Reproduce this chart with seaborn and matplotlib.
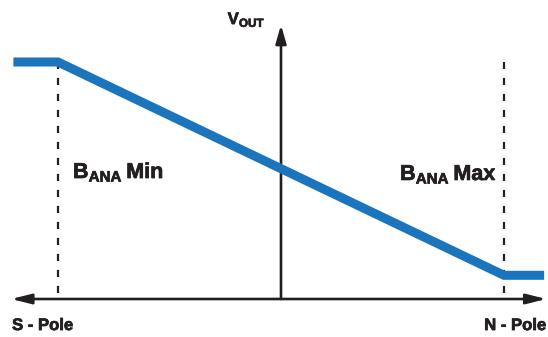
"""
Hall sensor analog output vs magnetic field (S-pole to N-pole).
"""
import matplotlib

matplotlib.use("Agg")
import matplotlib.patheffects as pe
import matplotlib.pyplot as plt
import pandas as pd
import seaborn as sns

# transfer curve: field (normalised, B_ANA Min = -1, B_ANA Max = +1) -> Vout
field = [-1.2, -1.0, 1.0, 1.18]
vout = [1.0, 1.0, 0.1, 0.1]

# limits of the marked field range and the dashed markers
b_limits = [-1.0, 1.0]
marker_bottom = 0.025
marker_top = 1.0

# axis extents
x_axis = [-1.21, 1.19]
y_axis_top = 1.156

BLUE = "#1b75bc"
INK = "#231f20"
FONT = "Liberation Sans"


def main() -> None:
    sns.set_style("white")
    plt.rcParams["font.family"] = [FONT, "DejaVu Sans"]
    plt.rcParams["mathtext.fontset"] = "custom"
    plt.rcParams["mathtext.bf"] = f"{FONT}:bold"
    plt.rcParams["mathtext.rm"] = f"{FONT}:bold"

    fig = plt.figure(figsize=(5.48, 3.37), dpi=100)
    ax = fig.add_axes([0, 0, 1, 1])
    ax.set_xlim(-281 / 223, 267 / 223)
    ax.set_ylim(-38 / 237, 299 / 237)
    ax.axis("off")

    # dashed markers at B_ANA Min / Max
    for b in b_limits:
        ax.plot([b, b], [marker_bottom, marker_top], color=INK, lw=1.6,
                dashes=(3.2, 4.0), zorder=1)

    # axes with arrows
    arrow = dict(arrowstyle="<|-|>,head_length=1.2,head_width=0.3",
                 lw=1.9, color=INK, shrinkA=0, shrinkB=0, mutation_scale=10)
    ax.annotate("", xy=(x_axis[1], 0), xytext=(x_axis[0], 0), arrowprops=arrow)
    arrow_up = dict(arrow, arrowstyle="-|>,head_length=1.1,head_width=0.32")
    ax.annotate("", xy=(0, y_axis_top), xytext=(0, 0), arrowprops=arrow_up)

    df = pd.DataFrame({"field": field, "vout": vout})
    sns.lineplot(data=df, x="field", y="vout", ax=ax, color=BLUE, lw=6.5,
                 sort=False, solid_joinstyle="miter", solid_capstyle="butt",
                 zorder=3)

    # slightly heavier lettering, like the original's black weight
    heavy = [pe.withStroke(linewidth=0.5, foreground=INK)]
    label = dict(va="baseline", fontweight="bold", color=INK, path_effects=heavy)
    ax.text(-0.07, 1.16, r"V$_{\mathbf{OUT}}$", ha="right", fontsize=12, **label)
    ax.text(-1.206, -0.131, "S - Pole", ha="left", fontsize=12, **label)
    ax.text(1.188, -0.131, "N - Pole", ha="right", fontsize=12, **label)
    ax.text(-0.933, 0.51, "B$_{\\mathbf{ANA}}$\u2009Min", ha="left",
            fontsize=15.5, **label)
    ax.text(0.534, 0.502, "B$_{\\mathbf{ANA}}$\u2009Max", ha="left",
            fontsize=15.5, **label)

    fig.savefig("out.png", dpi=100)
    plt.close(fig)


if __name__ == "__main__":
    main()
